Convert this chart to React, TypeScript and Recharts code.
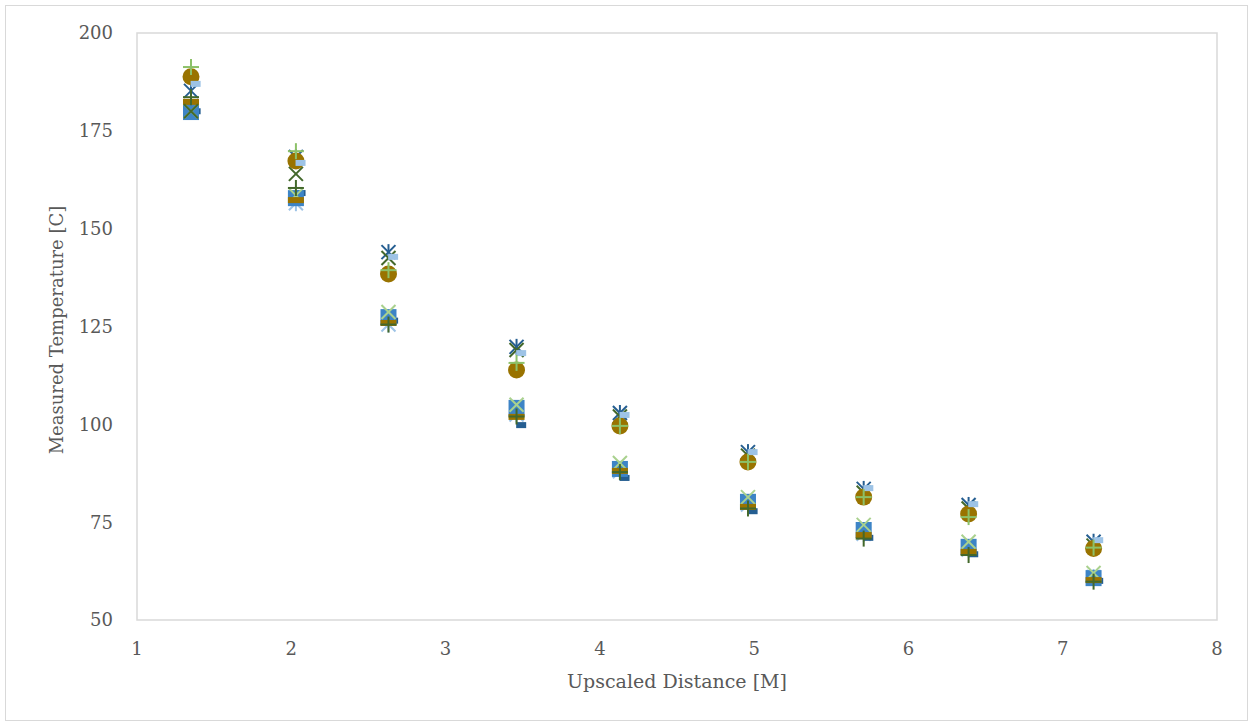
import { ScatterChart, Scatter, XAxis, YAxis, ReferenceArea } from 'recharts'

// x positions (upscaled distance)
const distance = [1.35, 2.03, 2.63, 3.46, 4.13, 4.96, 5.71, 6.39, 7.2]
const distanceShifted = [1.38, 2.06, 2.66, 3.49, 4.16, 4.99, 5.74, 6.42, 7.23]

// measured temperatures per run
const lightStar = [180.5, 156.5, 125.5, 102.5, 88, 79.5, 72, 68, 61]
const darkStar = [185.2, 168.3, 144, 119.8, 102.9, 92.9, 83.5, 79.4, 70]
const darkRect = [180, 159.1, 126.5, 99.8, 86.3, 77.8, 71, 66.8, 60]
const squares = [179.8, 157.8, 127.4, 104.2, 88.6, 80.2, 73, 68.7, 60.7]
const lightCross = [180, 158.5, 128.7, 105, 90.1, 81.4, 74.3, 70, 62]
const darkCross = [180, 164, 142.5, 119, 102, 92, 82.5, 78.5, 69]
const circles = [188.8, 167.3, 138.4, 113.9, 99.6, 90.4, 81.4, 77.1, 68.3]
const brownDash = [182.4, 157.3, 125.9, 101.9, 88.1, 78.9, 71.7, 67.4, 60.2]
const lightRect = [187, 166.8, 142.8, 118.2, 102.4, 92.9, 83.7, 79.6, 70.4]
const darkPlus = [183.6, 160.4, 125.5, 102, 87.8, 78.5, 70.8, 66.6, 59.8]
const lightPlus = [191.3, 169.8, 139.4, 115.7, 99.6, 90.4, 81.4, 76.3, 68.5]

const xTicks = [1, 2, 3, 4, 5, 6, 7, 8]
const yTicks = [50, 75, 100, 125, 150, 175, 200]

const toPoints = (xs: number[], ys: number[]) => xs.map((x, i) => ({ x, y: ys[i] }))

type Kind = 'square' | 'circle' | 'plus' | 'cross' | 'star' | 'dash' | 'rect'

function marker(kind: Kind, color: string) {
  return (p: any) => {
    const { cx, cy } = p
    if (cx == null || cy == null) return <g />
    switch (kind) {
      case 'square':
        return <rect x={cx - 8} y={cy - 8} width={16} height={16} fill={color} />
      case 'circle':
        return <circle cx={cx} cy={cy} r={8.5} fill={color} />
      case 'plus':
        return (
          <g stroke={color} strokeWidth={2}>
            <line x1={cx - 8} y1={cy} x2={cx + 8} y2={cy} />
            <line x1={cx} y1={cy - 8} x2={cx} y2={cy + 8} />
          </g>
        )
      case 'cross':
        return (
          <g stroke={color} strokeWidth={2}>
            <line x1={cx - 7} y1={cy - 7} x2={cx + 7} y2={cy + 7} />
            <line x1={cx - 7} y1={cy + 7} x2={cx + 7} y2={cy - 7} />
          </g>
        )
      case 'star':
        return (
          <g stroke={color} strokeWidth={2}>
            <line x1={cx - 7} y1={cy - 7} x2={cx + 7} y2={cy + 7} />
            <line x1={cx - 7} y1={cy + 7} x2={cx + 7} y2={cy - 7} />
            <line x1={cx} y1={cy - 8} x2={cx} y2={cy + 8} />
          </g>
        )
      case 'dash':
        return <rect x={cx - 8} y={cy - 3} width={16} height={6} fill={color} />
      case 'rect':
        return <rect x={cx - 5} y={cy - 3} width={10} height={6} fill={color} />
    }
  }
}

const series: { name: string; xs: number[]; ys: number[]; kind: Kind; color: string }[] = [
  { name: 'Run 1', xs: distance, ys: lightStar, kind: 'star', color: '#9DC3E6' },
  { name: 'Run 2', xs: distance, ys: darkStar, kind: 'star', color: '#255E91' },
  { name: 'Run 3', xs: distanceShifted, ys: darkRect, kind: 'rect', color: '#255E91' },
  { name: 'Run 4', xs: distance, ys: squares, kind: 'square', color: '#3D84C6' },
  { name: 'Run 5', xs: distance, ys: lightCross, kind: 'cross', color: '#A9D18E' },
  { name: 'Run 6', xs: distance, ys: brownDash, kind: 'dash', color: '#997300' },
  { name: 'Run 7', xs: distance, ys: darkCross, kind: 'cross', color: '#43682B' },
  { name: 'Run 8', xs: distance, ys: circles, kind: 'circle', color: '#997300' },
  { name: 'Run 9', xs: distanceShifted, ys: lightRect, kind: 'rect', color: '#9DC3E6' },
  { name: 'Run 10', xs: distance, ys: darkPlus, kind: 'plus', color: '#43682B' },
  { name: 'Run 11', xs: distance, ys: lightPlus, kind: 'plus', color: '#8CC168' },
]

const tickStyle = { fill: '#595959', fontSize: 18, fontFamily: 'DejaVu Serif, serif' }

export default function App() {
  return (
    <div style={{ position: 'fixed', left: 0, top: 0, width: 1253, height: 727, background: '#fff' }}>
      <div
        style={{
          position: 'absolute', left: 5, top: 5, width: 1243, height: 716,
          border: '1px solid #d9d9d9', boxSizing: 'border-box',
        }}
      />
      <div style={{ position: 'absolute', left: 0, top: 0 }}>
        <ScatterChart width={1253} height={727} margin={{ top: 33, right: 36, bottom: 67, left: 77 }}>
          <XAxis
            type="number"
            dataKey="x"
            domain={[1, 8]}
            ticks={xTicks}
            height={40}
            axisLine={false}
            tickLine={false}
            tickSize={0}
            tickMargin={22}
            tick={tickStyle}
          />
          <YAxis
            type="number"
            dataKey="y"
            domain={[50, 200]}
            ticks={yTicks}
            width={60}
            axisLine={false}
            tickLine={false}
            tickSize={0}
            tickMargin={24}
            tick={tickStyle}
          />
          <ReferenceArea x1={1} x2={8} y1={50} y2={200} fill="none" stroke="#d9d9d9" strokeWidth={1.5} />
          {series.map(s => (
            <Scatter
              key={s.name}
              name={s.name}
              data={toPoints(s.xs, s.ys)}
              shape={marker(s.kind, s.color)}
              isAnimationActive={false}
            />
          ))}
        </ScatterChart>
      </div>
      <div
        style={{
          position: 'absolute', left: 137, width: 1080, top: 670, textAlign: 'center',
          fontFamily: 'DejaVu Serif, serif', fontSize: 19, color: '#595959',
        }}
      >
        Upscaled Distance [M]
      </div>
      <div
        style={{
          position: 'absolute', left: 57, top: 330, width: 400, marginLeft: -200, marginTop: -12,
          transform: 'rotate(-90deg)', textAlign: 'center',
          fontFamily: 'DejaVu Serif, serif', fontSize: 18, color: '#595959', lineHeight: '24px',
        }}
      >
        Measured Temperature [C]
      </div>
    </div>
  )
}
